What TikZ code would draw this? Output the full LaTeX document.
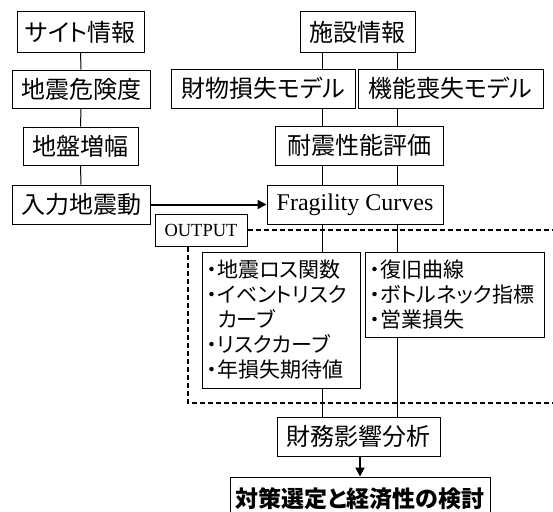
\documentclass[tikz,border=0pt]{standalone}
\usepackage{fontspec}
\setmainfont{Noto Sans CJK JP}[RawFeature={+palt}]
\newfontfamily\tms{Liberation Serif}
\usetikzlibrary{arrows.meta}
\begin{document}
\begin{tikzpicture}[x=1pt,y=-1pt,
  box/.style={draw=black, fill=white, line width=1pt, inner sep=0pt, align=center,
    font=\fontsize{24}{28}\selectfont},
  listbox/.style={draw=black, fill=white, line width=1pt, inner xsep=5pt, inner ysep=0pt,
    align=left, font=\fontsize{21}{25}\selectfont},
  link/.style={line width=1pt},
  flow/.style={line width=2pt, -{Triangle[length=9pt,width=9pt]}},
  outline/.style={line width=2pt, dash pattern=on 5pt off 3pt}]
\useasboundingbox (0,0) rectangle (553,511);
% left column
\node[box, minimum width=127pt, minimum height=40pt] (site) at (80.5,32) {サイト情報};
\node[box, minimum width=138pt, minimum height=38pt] (hazard) at (81,89) {地震危険度};
\node[box, minimum width=115pt, minimum height=38pt] (amp) at (80.5,146) {地盤増幅};
\node[box, minimum width=138pt, minimum height=39pt] (input) at (81,204.5) {入力地震動};
% right column
\node[box, minimum width=115pt, minimum height=40pt] (facility) at (357.5,32) {施設情報};
\node[box, minimum width=184pt, minimum height=39pt] (prop) at (263,88.5) {財物損失モデル};
\node[box, minimum width=185pt, minimum height=39pt] (func) at (450.5,88.5) {機能喪失モデル};
\node[box, minimum width=168pt, minimum height=39pt] (seismic) at (359,145.5) {耐震性能評価};
\node[box, minimum width=176pt, minimum height=39pt, font=\tms\fontsize{24}{28}\selectfont] (frag) at (355,204.5) {Fragility Curves};
\node[box, minimum width=92pt, minimum height=32pt, font=\tms\fontsize{18.5}{20}\selectfont] (output) at (201,230) {OUTPUT};
% output lists
\node[listbox, text width=148pt, minimum height=136pt] (lossbox) at (281,320)
  {・地震ロス関数\\・イベントリスク\\\phantom{・}カーブ\\・リスクカーブ\\・年損失期待値};
\node[listbox, text width=169pt, minimum height=85pt] (recovbox) at (454.5,294.5)
  {・復旧曲線\\・ボトルネック指標\\・営業損失};
% bottom
\node[box, minimum width=163pt, minimum height=39pt] (fin) at (358.5,436.5) {財務影響分析};
\node[box, minimum width=260pt, minimum height=44pt, font=\bfseries\fontsize{23}{27}\selectfont] (final) at (360,499) {対策選定と経済性の検討};
% helper coordinates
\coordinate (xl) at (322,0);
\coordinate (xr) at (397,0);
\coordinate (edge) at (553,0);
\coordinate (dl) at (188,403);
\coordinate (dr) at (553,403);
% connectors
\draw[link] (site) -- (hazard);
\draw[link] (hazard) -- (amp);
\draw[link] (amp) -- (input);
\draw[link] (facility.south -| xl) -- (prop.north -| xl);
\draw[link] (facility.south -| xr) -- (func.north -| xr);
\draw[link] (prop.south -| xl) -- (seismic.north -| xl);
\draw[link] (func.south -| xr) -- (seismic.north -| xr);
\draw[link] (seismic.south -| xl) -- (frag.north -| xl);
\draw[link] (seismic.south -| xr) -- (frag.north -| xr);
\draw[link] (frag.south -| xl) -- (lossbox.north -| xl);
\draw[link] (frag.south -| xr) -- (recovbox.north -| xr);
\draw[link] (lossbox.south -| xl) -- (fin.north -| xl);
\draw[link] (recovbox.south -| xr) -- (fin.north -| xr);
\draw[flow] (input) -- (frag);
\draw[flow] (fin.south -| final.north) -- (final.north);
% output region
\draw[outline] (output.east) -- (output.east -| edge);
\draw[outline] (output.south -| dl) -- (dl) -- (dr);
\end{tikzpicture}
\end{document}
